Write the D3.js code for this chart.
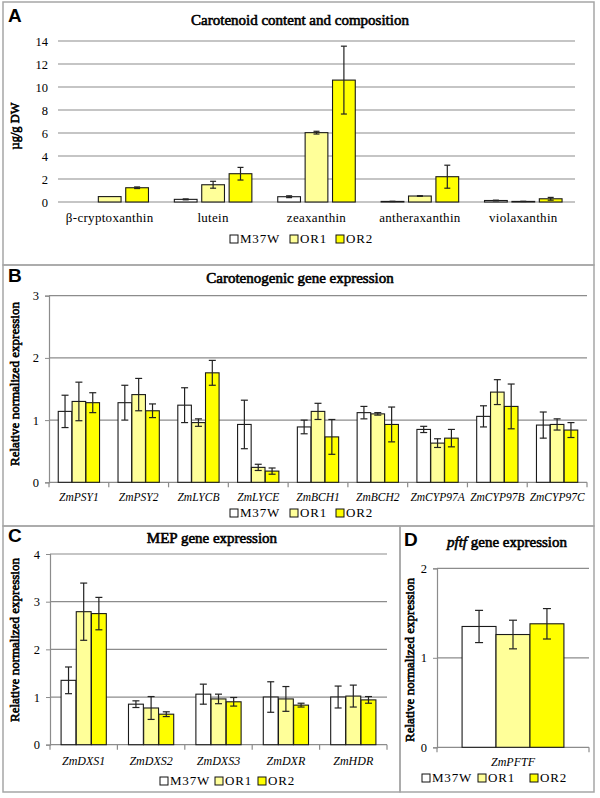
<!DOCTYPE html>
<html>
<head>
<meta charset="utf-8">
<script src="https://cdn.jsdelivr.net/npm/d3@7"></script>
<style>
  body { margin: 0; background: #fff; }
  svg { display: block; }
</style>
</head>
<body>
<div id="vis"></div>
<script>
// series (lines) shared by all four panels
const series = ["M37W", "OR1", "OR2"];
const colores = ["#ffffff", "#ffff99", "#ffff00"];

// A: carotenoid content (µg/g DW)
const catA = ["β-cryptoxanthin", "lutein", "zeaxanthin", "antheraxanthin", "violaxanthin"];
const valA_M37W = [0, 0.23, 0.46, 0.05, 0.13];
const valA_OR1 = [0.47, 1.5, 6.03, 0.52, 0.05];
const valA_OR2 = [1.24, 2.46, 10.6, 2.2, 0.28];
const errA_M37W = [0, 0.04, 0.08, 0.01, 0.03];
const errA_OR1 = [0, 0.3, 0.12, 0.03, 0.01];
const errA_OR2 = [0.07, 0.55, 2.95, 1.0, 0.12];
const ticksA = [0, 2, 4, 6, 8, 10, 12, 14];

// B: carotenogenic gene expression
const catB = ["ZmPSY1", "ZmPSY2", "ZmLYCB", "ZmLYCE", "ZmBCH1", "ZmBCH2", "ZmCYP97A", "ZmCYP97B", "ZmCYP97C"];
const valB_M37W = [1.14, 1.28, 1.24, 0.93, 0.89, 1.12, 0.85, 1.06, 0.92];
const valB_OR1 = [1.3, 1.41, 0.96, 0.24, 1.14, 1.1, 0.63, 1.45, 0.93];
const valB_OR2 = [1.28, 1.15, 1.76, 0.18, 0.73, 0.93, 0.71, 1.22, 0.84];
const errB_M37W = [0.26, 0.28, 0.28, 0.39, 0.11, 0.1, 0.05, 0.17, 0.21];
const errB_OR1 = [0.31, 0.26, 0.06, 0.05, 0.13, 0.02, 0.07, 0.2, 0.09];
const errB_OR2 = [0.16, 0.11, 0.2, 0.05, 0.28, 0.28, 0.14, 0.36, 0.12];
const ticksB = [0, 1, 2, 3];

// C: MEP gene expression
const catC = ["ZmDXS1", "ZmDXS2", "ZmDXS3", "ZmDXR", "ZmHDR"];
const valC_M37W = [1.35, 0.85, 1.06, 1.0, 1.0];
const valC_OR1 = [2.79, 0.77, 0.96, 0.96, 1.02];
const valC_OR2 = [2.75, 0.64, 0.9, 0.83, 0.94];
const errC_M37W = [0.28, 0.07, 0.21, 0.32, 0.23];
const errC_OR1 = [0.6, 0.24, 0.1, 0.26, 0.23];
const errC_OR2 = [0.34, 0.05, 0.09, 0.04, 0.07];
const ticksC = [0, 1, 2, 3, 4];

// D: pftf gene expression
const catD = ["ZmPFTF"];
const valD_M37W = [1.35];
const valD_OR1 = [1.26];
const valD_OR2 = [1.38];
const errD_M37W = [0.18];
const errD_OR1 = [0.16];
const errD_OR2 = [0.17];
const ticksD = [0, 1, 2];

const serif = "Liberation Serif, Times New Roman, serif";
const sans = "Liberation Sans, Arial, sans-serif";

const SVG = d3.select("#vis")
  .append("svg")
  .attr("width", 600)
  .attr("height", 798);

// arma filas {cat, serie, valor, error}
function armar(cats, vals, errs) {
  const filas = [];
  cats.forEach((c, i) => {
    series.forEach((s, j) => {
      filas.push({cat: c, serie: s, valor: vals[j][i], error: errs[j][i]});
    });
  });
  return filas;
}

// negrita "a mano": trazo fino del mismo color
function negrita(sel) {
  return sel
    .attr("font-family", serif)
    .attr("font-weight", "normal")
    .attr("fill", "#000")
    .attr("stroke", "#000")
    .attr("stroke-width", 0.6);
}

function panel(cfg) {
  // marco del panel
  SVG.append("rect")
    .attr("x", cfg.box[0]).attr("y", cfg.box[1])
    .attr("width", cfg.box[2]).attr("height", cfg.box[3])
    .attr("fill", "none")
    .attr("stroke", "#a6a6a6")
    .attr("stroke-width", 1.5);

  SVG.append("text")
    .attr("x", cfg.letra[0]).attr("y", cfg.letra[1])
    .attr("font-family", sans)
    .attr("font-weight", "bold")
    .attr("font-size", 19)
    .text(cfg.nombre);

  const g = SVG.append("g");

  const x0 = d3.scaleBand()
    .domain(cfg.cats)
    .range([cfg.x[0], cfg.x[1]])
    .paddingInner(cfg.pad)
    .paddingOuter(cfg.pad / 2);

  const x1 = d3.scaleBand()
    .domain(series)
    .range([0, x0.bandwidth()])
    .padding(cfg.padSerie);

  const y = d3.scaleLinear()
    .domain([0, d3.max(cfg.ticks)])
    .range([cfg.y[0], cfg.y[1]]);

  // grilla
  g.selectAll(".grid")
    .data(cfg.ticks)
    .join("line")
    .attr("x1", cfg.x[0]).attr("x2", cfg.x[1])
    .attr("y1", d => y(d)).attr("y2", d => y(d))
    .attr("stroke", "#8c8c8c")
    .attr("stroke-width", 1.2);

  // eje y
  const ejeY = g.append("g")
    .attr("transform", `translate(${cfg.x[0]},0)`)
    .call(d3.axisLeft(y)
      .tickValues(cfg.ticks)
      .tickFormat(d3.format("d"))
      .tickSize(cfg.conEje ? 4 : 0)
      .tickPadding(cfg.conEje ? 6 : 10));
  ejeY.attr("font-family", serif).attr("font-size", 12.5);
  ejeY.select(".domain").attr("stroke", cfg.conEje ? "#8c8c8c" : "none").attr("stroke-width", 1.2);
  ejeY.selectAll(".tick line").attr("stroke", "#8c8c8c");
  ejeY.selectAll("text").attr("fill", "#000");

  // marcas del eje x entre categorias
  if (cfg.conEje) {
    const bordes = cfg.cats.map(c => x0(c) - x0.step() * x0.paddingInner() / 2);
    bordes.push(cfg.x[1]);
    g.selectAll(".xt")
      .data(bordes)
      .join("line")
      .attr("x1", d => d).attr("x2", d => d)
      .attr("y1", cfg.y[0]).attr("y2", cfg.y[0] + 5)
      .attr("stroke", "#8c8c8c")
      .attr("stroke-width", 1.2);
  }

  const filas = armar(cfg.cats, cfg.vals, cfg.errs);

  g.selectAll(".barra")
    .data(filas.filter(d => d.valor > 0))
    .join("rect")
    .attr("x", d => x0(d.cat) + x1(d.serie))
    .attr("y", d => y(d.valor))
    .attr("width", x1.bandwidth())
    .attr("height", d => cfg.y[0] - y(d.valor))
    .attr("fill", d => colores[series.indexOf(d.serie)])
    .attr("stroke", "#1a1a1a")
    .attr("stroke-width", 1.1);

  // barras de error
  const err = g.selectAll(".err")
    .data(filas.filter(d => d.error > 0))
    .join("g")
    .attr("transform", d => `translate(${x0(d.cat) + x1(d.serie) + x1.bandwidth() / 2},0)`);
  err.append("line")
    .attr("y1", d => y(d.valor + d.error))
    .attr("y2", d => y(Math.max(0, d.valor - d.error)))
    .attr("stroke", "#222").attr("stroke-width", 1.2);
  err.append("line")
    .attr("x1", -cfg.cap).attr("x2", cfg.cap)
    .attr("y1", d => y(d.valor + d.error)).attr("y2", d => y(d.valor + d.error))
    .attr("stroke", "#222").attr("stroke-width", 1.2);
  err.append("line")
    .attr("x1", -cfg.cap).attr("x2", cfg.cap)
    .attr("y1", d => y(Math.max(0, d.valor - d.error))).attr("y2", d => y(Math.max(0, d.valor - d.error)))
    .attr("stroke", "#222").attr("stroke-width", 1.2);

  // etiquetas de categoria
  g.selectAll(".cat")
    .data(cfg.cats)
    .join("text")
    .attr("x", d => x0(d) + x0.bandwidth() / 2)
    .attr("y", cfg.catY)
    .attr("text-anchor", "middle")
    .attr("font-family", serif)
    .attr("font-size", cfg.catSize)
    .attr("font-style", cfg.italica ? "italic" : "normal")
    .attr("letter-spacing", cfg.italica ? 0 : 0.3)
    .text(d => d);

  // titulo eje y
  SVG.append("text")
    .attr("transform", `translate(${cfg.tituloY[0]},${cfg.tituloY[1]}) rotate(-90)`)
    .attr("text-anchor", "middle")
    .attr("font-size", cfg.tituloYSize)
    .call(negrita)
    .text(cfg.tituloYTexto);

  // titulo
  const t = SVG.append("text")
    .attr("x", cfg.titulo[0]).attr("y", cfg.titulo[1])
    .attr("text-anchor", cfg.tituloAnchor || "middle")
    .attr("font-size", 15)
    .call(negrita);
  cfg.tituloPartes.forEach(p => {
    t.append("tspan").attr("font-style", p[1] ? "italic" : "normal").text(p[0]);
  });

  // leyenda
  const ley = SVG.append("g")
    .selectAll("g")
    .data(series)
    .join("g")
    .attr("transform", (d, i) => `translate(${cfg.ley[i]},${cfg.leyY})`);
  ley.append("rect")
    .attr("x", 0).attr("y", -8)
    .attr("width", 8).attr("height", 8)
    .attr("fill", (d, i) => colores[i])
    .attr("stroke", "#111")
    .attr("stroke-width", 1);
  ley.append("text")
    .attr("x", 10).attr("y", 0)
    .attr("font-family", serif)
    .attr("font-size", 13)
    .attr("letter-spacing", 0.8)
    .text(d => d);
}

panel({
  nombre: "A", letra: [8, 22], box: [3, 2, 591, 263],
  cats: catA,
  vals: [valA_M37W, valA_OR1, valA_OR2],
  errs: [errA_M37W, errA_OR1, errA_OR2],
  ticks: ticksA, x: [58, 575], y: [202, 41],
  pad: 0.16, padSerie: 0.17, cap: 3, conEje: false, italica: false, catSize: 13,
  catY: 222, titulo: [300, 25], tituloPartes: [["Carotenoid content and composition", false]],
  tituloY: [19, 126], tituloYSize: 12.5, tituloYTexto: "µg/g DW",
  ley: [230, 290, 336], leyY: 243
});

panel({
  nombre: "B", letra: [8, 282], box: [3, 265, 591, 261],
  cats: catB,
  vals: [valB_M37W, valB_OR1, valB_OR2],
  errs: [errB_M37W, errB_OR1, errB_OR2],
  ticks: ticksB, x: [49, 587], y: [482.3, 295.7],
  pad: 0.3, padSerie: 0.02, cap: 3.5, conEje: true, italica: true, catSize: 11.5,
  catY: 501, titulo: [300, 283], tituloPartes: [["Carotenogenic gene expression", false]],
  tituloY: [19, 384], tituloYSize: 13, tituloYTexto: "Relative normalized expression",
  ley: [230, 290, 336], leyY: 517
});

panel({
  nombre: "C", letra: [8, 542], box: [3, 526, 397, 266],
  cats: catC,
  vals: [valC_M37W, valC_OR1, valC_OR2],
  errs: [errC_M37W, errC_OR1, errC_OR2],
  ticks: ticksC, x: [50, 387], y: [744.7, 554],
  pad: 0.32, padSerie: 0.02, cap: 3.5, conEje: true, italica: true, catSize: 12,
  catY: 765, titulo: [212, 543], tituloPartes: [["MEP gene expression", false]],
  tituloY: [19, 640], tituloYSize: 13, tituloYTexto: "Relative normalized expression",
  ley: [160, 215, 258], leyY: 785
});

panel({
  nombre: "D", letra: [404, 546], box: [400, 526, 194, 266],
  cats: catD,
  vals: [valD_M37W, valD_OR1, valD_OR2],
  errs: [errD_M37W, errD_OR1, errD_OR2],
  ticks: ticksD, x: [437, 589], y: [747.3, 568.3],
  pad: 0.33, padSerie: 0.0, cap: 4, conEje: true, italica: true, catSize: 12,
  catY: 766, titulo: [447, 547], tituloAnchor: "start",
  tituloPartes: [["pftf", true], [" gene expression", false]],
  tituloY: [414, 660], tituloYSize: 13, tituloYTexto: "Relative normalized expression",
  ley: [422, 478, 530], leyY: 782
});
</script>
</body>
</html>
